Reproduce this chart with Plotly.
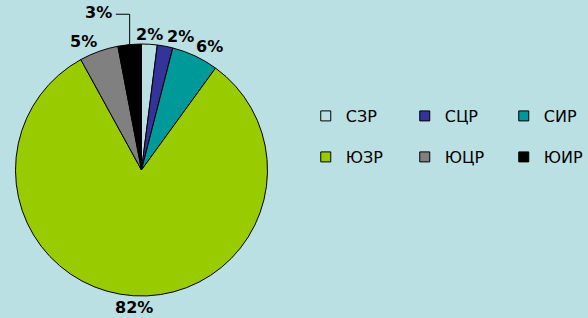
import math
import plotly.graph_objects as go

regions = ["СЗР", "СЦР", "СИР", "ЮЗР", "ЮЦР", "ЮИР"]
shares = [2, 2, 6, 82, 5, 3]
colors = ["#BBE0E3", "#333399", "#009999", "#99CC00", "#808080", "#000000"]

BG = "#BBE0E3"
W, H = 588, 318
# pie box in pixels
PL, PR, PT, PB = 14, 269, 44, 296
LABEL_FS = 16

cx, cy = (PL + PR) / 2, (PT + PB) / 2
r = min(PR - PL, PB - PT) / 2

fig = go.Figure()
fig.add_trace(go.Pie(
    labels=regions,
    values=shares,
    sort=False,
    direction="clockwise",
    rotation=0,
    marker=dict(colors=colors, line=dict(color="black", width=1)),
    textinfo="none",
    showlegend=False,
    hoverinfo="label+percent",
    domain=dict(x=[PL / W, PR / W], y=[1 - PB / H, 1 - PT / H]),
))

# percentage labels placed around the pie from the slice angles
def text_w(t):
    return sum((1.002 if ch == "%" else 0.696) * LABEL_FS for ch in t)

total = sum(shares)
cum = 0
boxes = []
annotations = []
shapes = []
for v in shares:
    th = (cum + v / 2) / total * 2 * math.pi
    cum += v
    s, c = math.sin(th), math.cos(th)
    d = r - 2 if c > 0 else r
    px, py = cx + d * s, cy - d * c
    txt = f"{v / total * 100:.0f}%"
    w, h = text_w(txt), LABEL_FS * 1.25
    xa = "left" if s > 0.1 else ("right" if s < -0.1 else "center")
    ya = "bottom" if c > 0 else "top"
    x0 = px if xa == "left" else (px - w if xa == "right" else px - w / 2)
    y0 = py - h if ya == "bottom" else py
    box = [x0, x0 + w, y0, y0 + h]
    hit = [b for b in boxes if not (box[1] <= b[0] or box[0] >= b[1] or box[3] <= b[2] or box[2] >= b[3])]
    if hit:
        # raise the label above the colliding one and add a leader line
        top = min(b[2] for b in hit)
        ly1 = top - 2
        ly0 = ly1 - h
        rx = px - 16
        box = [rx - w, rx, ly0, ly1]
        ymid = (ly0 + ly1) / 2
        ex, ey = cx + r * s, cy - r * c
        shapes.append(dict(
            type="path", xref="paper", yref="paper",
            path=f"M{ex / W},{1 - ey / H} L{ex / W},{1 - ymid / H} L{(rx + 2) / W},{1 - ymid / H}",
            line=dict(color="black", width=1),
        ))
        xa, ya = "right", "bottom"
        px, py = rx, ly1
    boxes.append(box)
    annotations.append(dict(
        x=px / W, y=1 - py / H, xref="paper", yref="paper",
        xanchor=xa, yanchor=ya, text=f"<b>{txt}</b>", showarrow=False,
        font=dict(family="DejaVu Sans", size=LABEL_FS, color="black"),
    ))

# legend entries (two rows of three)
for i, (name, col) in enumerate(zip(regions, colors)):
    fig.add_trace(go.Scatter(
        x=[None], y=[None], mode="markers", name=name,
        marker=dict(symbol="square", size=10, color=col,
                    line=dict(color="black", width=1)),
        legend="legend" if i < 3 else "legend2",
        showlegend=True, hoverinfo="skip",
    ))

leg_common = dict(
    orientation="h", xanchor="left", yanchor="middle",
    font=dict(family="DejaVu Sans", size=16, color="black"),
    bgcolor="rgba(0,0,0,0)", entrywidth=54, itemwidth=30,
    traceorder="normal",
)

fig.update_layout(
    width=W, height=H,
    margin=dict(l=0, r=0, t=0, b=0, autoexpand=False),
    paper_bgcolor=BG, plot_bgcolor=BG,
    xaxis=dict(visible=False), yaxis=dict(visible=False),
    legend=dict(x=0.52, y=1 - 116 / H, **leg_common),
    legend2=dict(x=0.52, y=1 - 157 / H, **leg_common),
    showlegend=True,
    annotations=annotations,
    shapes=shapes,
)

fig.write_html(
    "out.html",
    config={"displayModeBar": False},
    post_script="document.body.style.margin='0';document.body.style.overflow='hidden';",
)
